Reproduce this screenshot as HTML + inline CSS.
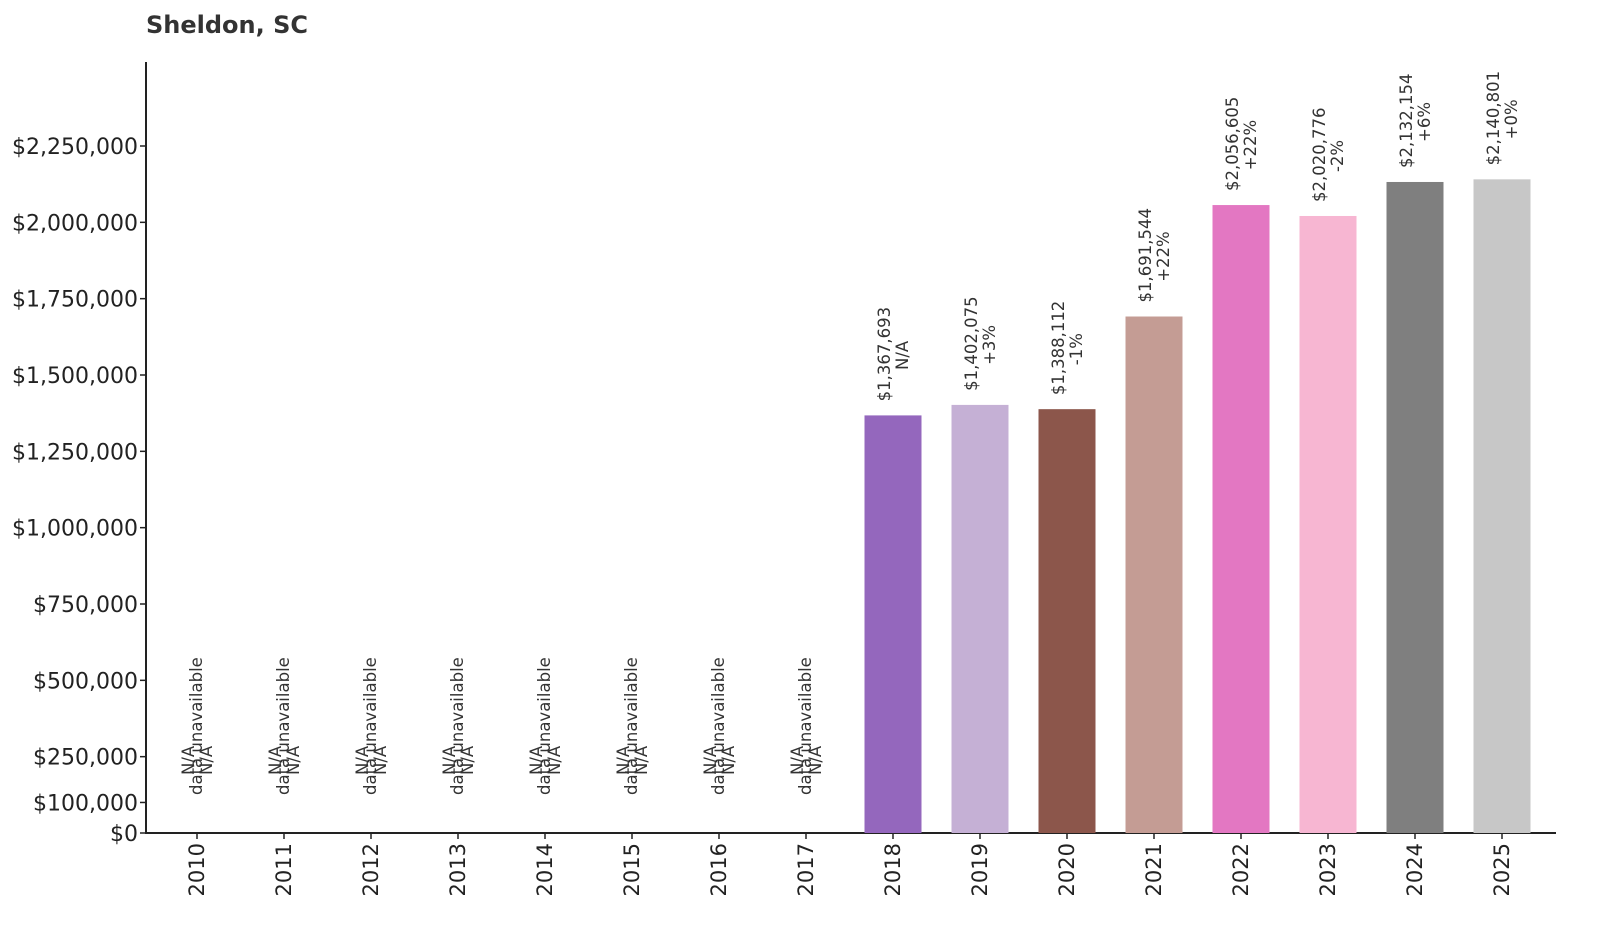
<!DOCTYPE html>
<html><head><meta charset="utf-8"><style>
html,body{margin:0;padding:0;background:#fff;}
svg{display:block;}
text{font-family:"DejaVu Sans","Liberation Sans",sans-serif;}
</style></head><body>
<svg id="chart" width="1600" height="928" viewBox="0 0 1600 928" xmlns="http://www.w3.org/2000/svg">
<text x="146" y="33" font-size="24" font-weight="bold" fill="#333">Sheldon, SC</text>
<g id="plot"></g>
</svg>
<script>
const years = [2010,2011,2012,2013,2014,2015,2016,2017,2018,2019,2020,2021,2022,2023,2024,2025];
const values = [null,null,null,null,null,null,null,null,1367693,1402075,1388112,1691544,2056605,2020776,2132154,2140801];
const changes = [null,null,null,null,null,null,null,null,"N/A","+3%","-1%","+22%","+22%","-2%","+6%","+0%"];
const colors = ["#1f77b4","#aec7e8","#ff7f0e","#ffbb78","#2ca02c","#98df8a","#d62728","#ff9896","#9467bd","#c5b0d5","#8c564b","#c49c94","#e377c2","#f7b6d2","#7f7f7f","#c7c7c7"];
const yTicks = [0,100000,250000,500000,750000,1000000,1250000,1500000,1750000,2000000,2250000];

const NS = "http://www.w3.org/2000/svg";
const g = document.getElementById("plot");
const x0 = 197, xStep = 87, barW = 57;
const yZero = 833, yScale = 687 / 2250000;
function xPos(i){ return x0 + i * xStep; }
function yPos(v){ return yZero - v * yScale; }
function mk(tag, attrs, text){
  const e = document.createElementNS(NS, tag);
  for (const k in attrs) e.setAttribute(k, attrs[k]);
  if (text !== undefined) e.textContent = text;
  g.appendChild(e);
  return e;
}
function fmt(v){ return "$" + v.toLocaleString("en-US"); }

let ax = mk("line",{x1:146,y1:62,x2:146,y2:833,stroke:"#222","stroke-width":2});


let bx = mk("line",{x1:145,y1:833,x2:1556,y2:833,stroke:"#222","stroke-width":2});



yTicks.forEach(v=>{
  const y = yPos(v);
  const t = mk("line",{x1:140,y1:y,x2:146,y2:y,stroke:"#222","stroke-width":1.5});
  
  
  const l = mk("text",{x:138,y:y+8,"font-size":22,"text-anchor":"end",fill:"#222"}, fmt(v));
  
  
});

years.forEach((yr,i)=>{
  const x = xPos(i);
  const t = mk("line",{x1:x,y1:833,x2:x,y2:839,stroke:"#222","stroke-width":1.5});
  
  
  const l = mk("text",{x:0,y:0,"font-size":21,"text-anchor":"end",fill:"#222",transform:`translate(${x+7},843) rotate(-90)`}, String(yr));
  
  

  const v = values[i];
  if (v === null) {
    const a = mk("text",{x:0,y:0,"font-size":16.5,"text-anchor":"start",fill:"#333",transform:`translate(${x+5},795) rotate(-90)`}, "data unavailable");
    
    
    const b = mk("text",{x:0,y:0,"font-size":16.5,"text-anchor":"start",fill:"#333",transform:`translate(${x-3},775) rotate(-90)`}, "N/A");
    
    
    const c = mk("text",{x:0,y:0,"font-size":16.5,"text-anchor":"start",fill:"#333",transform:`translate(${x+15},775) rotate(-90)`}, "N/A");
    
    
  } else {
    const top = yPos(v);
    const r = mk("rect",{x:x-barW/2,y:top,width:barW,height:yZero-top,fill:colors[i]});
    
    
    const a = mk("text",{x:0,y:0,"font-size":16.5,"text-anchor":"start",fill:"#333",transform:`translate(${x-3},${top-14}) rotate(-90)`}, fmt(v));
    
    
    const lineW = fmt(v).length * 9.2;
    const c = mk("text",{x:0,y:0,"font-size":16.5,"text-anchor":"middle",fill:"#333",transform:`translate(${x+15},${top-14-lineW/2}) rotate(-90)`}, changes[i]);
    
    
  }
});
</script>
</body></html>
